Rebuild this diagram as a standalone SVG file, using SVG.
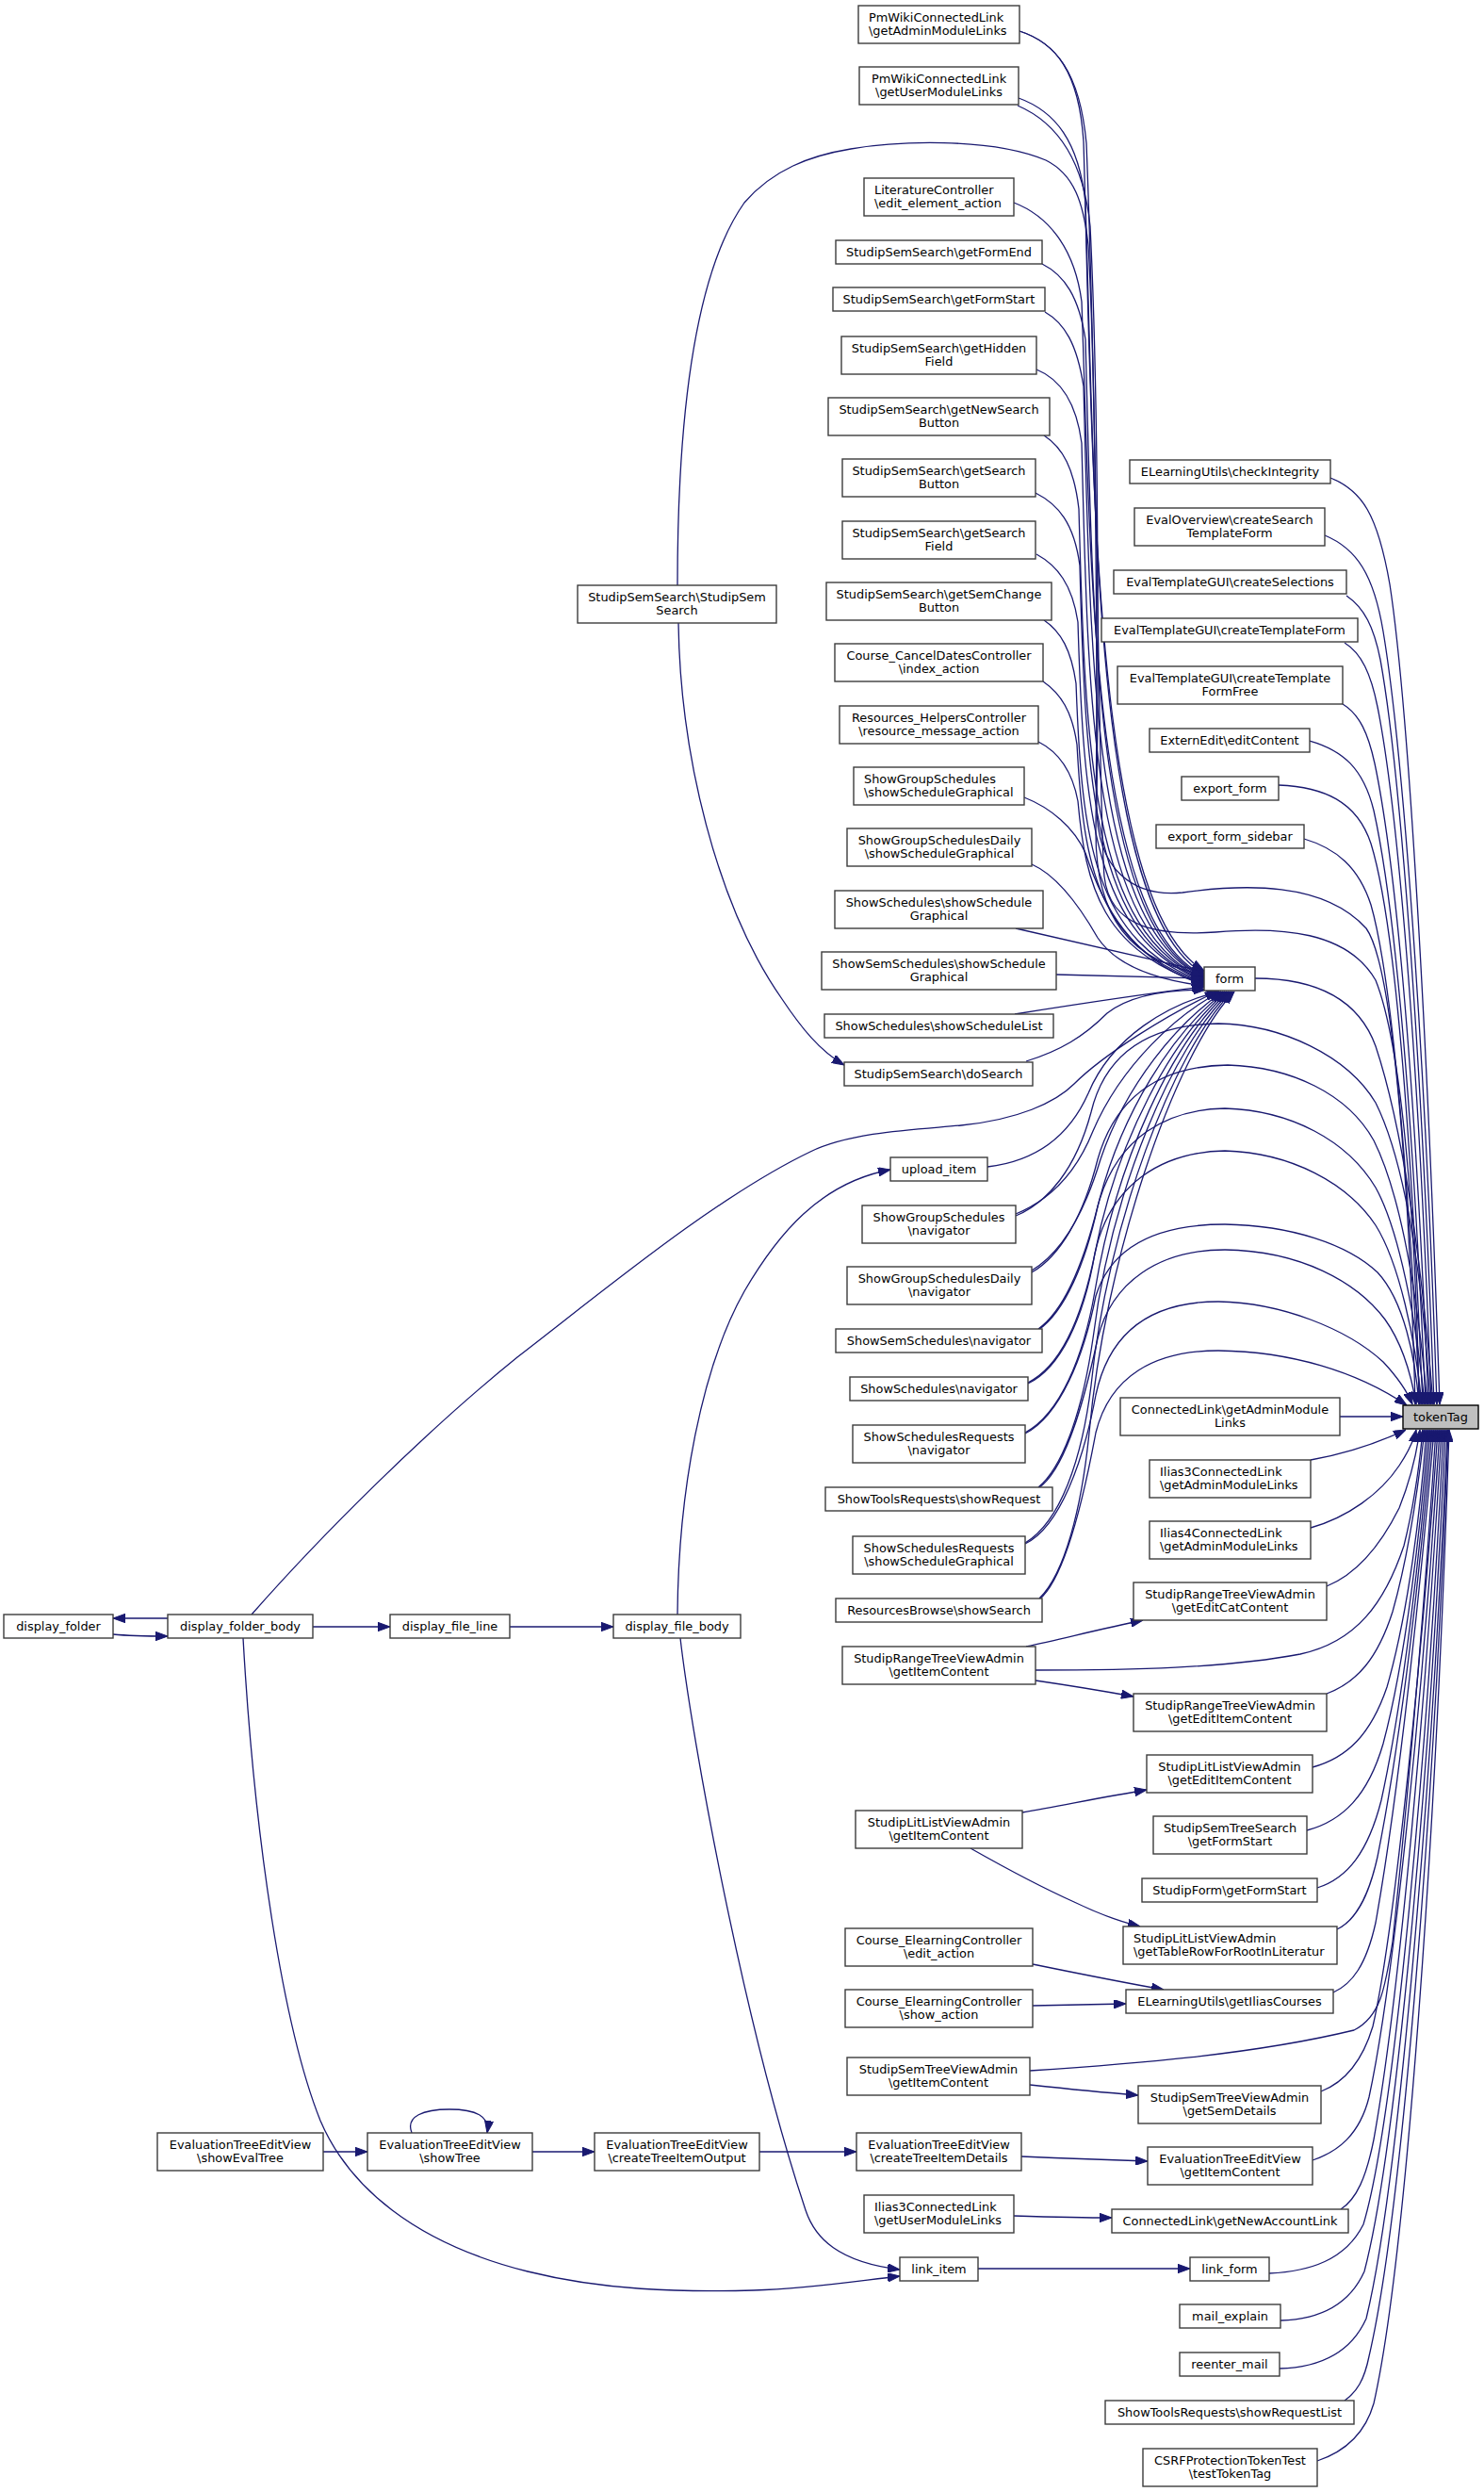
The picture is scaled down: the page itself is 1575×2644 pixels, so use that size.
<svg xmlns="http://www.w3.org/2000/svg" width="1575" height="2644" viewBox="0 0 1575 2644">
<style>
.node rect{fill:#ffffff;stroke:#3c3c3c;stroke-width:1.4}
.root rect{fill:#bfbfbf;stroke:#000000;stroke-width:1.4}
text{font-family:"DejaVu Sans","Liberation Sans",sans-serif;font-size:12.9px;fill:#000000}
.c{text-anchor:middle}
.l{text-anchor:start}
.e{fill:none;stroke:#191970;stroke-width:1.3;marker-end:url(#ah)}
</style>
<defs>
<marker id="ah" viewBox="0 0 13 9.4" refX="13" refY="4.7" markerWidth="13" markerHeight="9.4" markerUnits="userSpaceOnUse" orient="auto"><path d="M0,0 L13,4.7 L0,9.4 Z" fill="#191970" stroke="#191970" stroke-width="1"/></marker>
</defs>
<rect x="0" y="0" width="1575" height="2644" fill="#ffffff"/>
<g id="edges">
<path class="e" d="M1082,33 C1120,45 1145,75 1150,150 C1160,500 1160,960 1278,1030"/>
<path class="e" d="M1082,33 C1120,45 1146,76 1153,152 C1165,450 1166,860 1172,930 C1178,985 1230,993 1290,989 C1360,983 1430,988 1460,1040 C1488,1110 1503,1300 1506,1490"/>
<path class="e" d="M1081,104 C1120,118 1145,150 1152,215 C1162,520 1160,970 1278,1033"/>
<path class="e" d="M1080,112 C1122,130 1150,170 1157,240 C1166,420 1166,700 1164,850 C1162,925 1205,952 1255,947 C1320,938 1405,935 1450,985 C1482,1030 1497,1300 1502,1490"/>
<path class="e" d="M1076,215 C1110,228 1140,260 1148,320 C1158,600 1158,980 1278,1035"/>
<path class="e" d="M1106,280 C1130,292 1145,315 1152,360 C1160,650 1160,985 1278,1036"/>
<path class="e" d="M1109,331 C1130,343 1143,365 1150,410 C1158,700 1158,985 1278,1037"/>
<path class="e" d="M1100,392 C1125,402 1142,425 1148,470 C1155,750 1158,990 1278,1038"/>
<path class="e" d="M1108,462 C1128,475 1140,497 1145,540 C1152,800 1158,990 1278,1039"/>
<path class="e" d="M1099,523 C1123,535 1140,555 1146,600 C1152,830 1160,995 1278,1040"/>
<path class="e" d="M1100,588 C1122,600 1138,620 1144,660 C1150,860 1160,995 1278,1041"/>
<path class="e" d="M1108,658 C1126,670 1137,690 1142,725 C1148,890 1160,1000 1278,1042"/>
<path class="e" d="M1107,723 C1126,736 1138,755 1143,790 C1150,920 1165,1005 1278,1043"/>
<path class="e" d="M1102,787 C1124,798 1138,818 1144,850 C1152,940 1170,1010 1278,1044"/>
<path class="e" d="M1087,846 C1115,857 1140,878 1152,905 C1170,960 1200,1020 1278,1045"/>
<path class="e" d="M1095,917 C1120,928 1145,960 1165,995 C1185,1025 1230,1040 1278,1046"/>
<path class="e" d="M1078,985 C1140,999 1210,1015 1278,1031"/>
<path class="e" d="M1121,1034 L1278,1038"/>
<path class="e" d="M1077,1076 C1140,1066 1210,1055 1278,1047"/>
<path class="e" d="M1089,1126 C1125,1115 1150,1100 1175,1075 C1200,1055 1240,1050 1280,1050"/>
<path class="e" d="M719,621 C719,480 730,300 790,215 C820,180 860,165 903,158 C950,150 1050,145 1110,170 C1140,185 1150,215 1155,260 C1163,400 1165,700 1163,880 C1162,975 1200,1020 1278,1034"/>
<path class="e" d="M720,661 C722,800 760,960 830,1060 C850,1090 870,1115 896,1130"/>
<path class="e" d="M267,1713 C340,1630 450,1520 549,1440 C640,1370 760,1270 860,1222 C905,1200 980,1198 1020,1194 C1080,1188 1120,1170 1140,1150 C1170,1120 1240,1075 1292,1052"/>
<path class="e" d="M1048,1238 C1100,1232 1135,1205 1155,1160 C1180,1100 1240,1065 1294,1052"/>
<path class="e" d="M1078,1288 C1110,1275 1140,1250 1160,1200 C1190,1130 1250,1075 1296,1052"/>
<path class="e" d="M1078,1290 C1112,1276 1142,1240 1158,1180 C1175,1110 1230,1087 1293,1086 C1360,1087 1430,1120 1460,1170 C1490,1230 1510,1350 1518,1490"/>
<path class="e" d="M1095,1348 C1125,1330 1150,1290 1168,1230 C1195,1150 1250,1085 1298,1052"/>
<path class="e" d="M1095,1350 C1125,1333 1150,1290 1165,1230 C1185,1160 1235,1131 1303,1130 C1370,1132 1430,1160 1458,1210 C1488,1270 1505,1380 1515,1490"/>
<path class="e" d="M1102,1410 C1130,1390 1150,1340 1165,1280 C1190,1180 1245,1095 1300,1052"/>
<path class="e" d="M1102,1411 C1130,1392 1152,1340 1165,1280 C1185,1205 1240,1177 1300,1176 C1370,1178 1430,1210 1460,1260 C1485,1305 1503,1400 1512,1490"/>
<path class="e" d="M1091,1467 C1125,1450 1148,1400 1162,1330 C1185,1210 1245,1100 1302,1052"/>
<path class="e" d="M1091,1468 C1125,1452 1150,1400 1162,1330 C1178,1255 1235,1222 1300,1221 C1370,1223 1430,1255 1460,1300 C1485,1340 1502,1420 1509,1490"/>
<path class="e" d="M1088,1520 C1125,1500 1150,1440 1162,1370 C1185,1230 1245,1105 1304,1052"/>
<path class="e" d="M1088,1521 C1125,1502 1150,1440 1163,1375 C1180,1320 1230,1299 1300,1299 C1370,1300 1430,1320 1462,1350 C1490,1380 1502,1440 1506,1490"/>
<path class="e" d="M1102,1578 C1130,1555 1150,1490 1160,1420 C1180,1260 1245,1110 1306,1052"/>
<path class="e" d="M1102,1579 C1130,1560 1150,1490 1165,1420 C1180,1360 1230,1326 1300,1326 C1380,1327 1440,1360 1470,1400 C1488,1425 1498,1460 1503,1490"/>
<path class="e" d="M1088,1637 C1125,1615 1148,1550 1158,1470 C1175,1300 1245,1115 1308,1052"/>
<path class="e" d="M1088,1638 C1125,1620 1150,1550 1163,1480 C1178,1410 1225,1381 1293,1381 C1360,1382 1430,1410 1468,1445 C1482,1460 1493,1475 1499,1490"/>
<path class="e" d="M1103,1696 C1130,1670 1148,1600 1156,1520 C1172,1340 1245,1120 1310,1052"/>
<path class="e" d="M1103,1697 C1130,1675 1150,1590 1163,1520 C1178,1460 1225,1433 1293,1433 C1370,1434 1440,1455 1493,1491"/>
<path class="e" d="M1332,1038 C1390,1038 1440,1055 1460,1110 C1490,1200 1510,1350 1521,1490"/>
<path class="e" d="M1412,507 C1445,520 1462,545 1475,620 C1495,750 1515,1100 1528,1490"/>
<path class="e" d="M1406,568 C1440,582 1458,610 1468,670 C1488,790 1512,1100 1525,1490"/>
<path class="e" d="M1429,632 C1448,645 1458,665 1465,700 C1485,810 1508,1100 1522,1490"/>
<path class="e" d="M1427,682 C1445,693 1455,715 1462,750 C1482,850 1505,1100 1519,1490"/>
<path class="e" d="M1425,747 C1443,758 1452,778 1459,810 C1478,900 1500,1100 1516,1490"/>
<path class="e" d="M1390,786 C1425,796 1447,815 1458,860 C1478,950 1498,1150 1513,1490"/>
<path class="e" d="M1357,833 C1405,835 1440,850 1455,895 C1478,970 1495,1150 1510,1490"/>
<path class="e" d="M1384,890 C1418,900 1442,920 1455,960 C1475,1030 1492,1200 1507,1490"/>
<path class="e" d="M1422,1503 L1489,1503"/>
<path class="e" d="M1391,1549 C1425,1543 1460,1532 1492,1517"/>
<path class="e" d="M1391,1621 C1430,1610 1465,1585 1485,1555 C1495,1540 1500,1530 1503,1517"/>
<path class="e" d="M1408,1683 C1440,1670 1465,1640 1485,1600 C1497,1570 1503,1545 1507,1517"/>
<path class="e" d="M1099,1772 C1200,1772 1300,1770 1380,1755 C1440,1742 1470,1700 1490,1640 C1500,1600 1506,1560 1510,1517"/>
<path class="e" d="M1408,1797 C1440,1785 1462,1760 1478,1710 C1495,1650 1505,1580 1512,1517"/>
<path class="e" d="M1393,1875 C1430,1865 1455,1840 1472,1790 C1495,1710 1508,1600 1514,1517"/>
<path class="e" d="M1387,1942 C1425,1932 1452,1905 1468,1850 C1492,1760 1508,1620 1516,1517"/>
<path class="e" d="M1398,2003 C1430,1993 1452,1965 1466,1910 C1490,1800 1508,1640 1518,1517"/>
<path class="e" d="M1419,2047 C1438,2038 1452,2015 1462,1970 C1488,1840 1508,1660 1520,1517"/>
<path class="e" d="M1415,2114 C1435,2105 1450,2085 1460,2040 C1485,1900 1508,1680 1522,1517"/>
<path class="e" d="M1093,2197 C1200,2190 1330,2180 1437,2154 C1465,2140 1470,2110 1478,2060 C1495,1900 1512,1700 1524,1517"/>
<path class="e" d="M1402,2219 C1425,2210 1445,2190 1457,2150 C1480,2050 1510,1750 1526,1517"/>
<path class="e" d="M1393,2292 C1420,2283 1443,2265 1453,2225 C1480,2100 1512,1780 1528,1517"/>
<path class="e" d="M1423,2344 C1440,2333 1450,2310 1458,2270 C1485,2120 1514,1800 1530,1517"/>
<path class="e" d="M1347,2412 C1390,2410 1428,2398 1447,2360 C1480,2250 1516,1850 1532,1517"/>
<path class="e" d="M1359,2462 C1395,2461 1430,2450 1448,2410 C1482,2280 1518,1880 1534,1517"/>
<path class="e" d="M1358,2513 C1395,2512 1432,2500 1450,2460 C1484,2320 1520,1900 1536,1517"/>
<path class="e" d="M1427,2547 C1440,2538 1448,2525 1453,2500 C1488,2350 1522,1920 1537,1517"/>
<path class="e" d="M1398,2611 C1425,2602 1448,2585 1458,2550 C1492,2400 1524,1950 1538,1517"/>
<path class="e" d="M1089,1747 C1130,1738 1170,1728 1213,1719"/>
<path class="e" d="M1099,1783 C1140,1789 1170,1794 1203,1800"/>
<path class="e" d="M1085,1923 C1130,1915 1175,1906 1217,1899"/>
<path class="e" d="M1030,1961 C1060,1978 1100,2000 1140,2018 C1165,2030 1185,2038 1210,2044"/>
<path class="e" d="M1096,2084 C1145,2094 1190,2103 1235,2111"/>
<path class="e" d="M1096,2128 L1195,2126"/>
<path class="e" d="M1093,2212 C1130,2216 1170,2220 1208,2223"/>
<path class="e" d="M1084,2288 C1130,2290 1180,2292 1218,2293"/>
<path class="e" d="M1076,2351 C1110,2352 1150,2353 1180,2353"/>
<path class="e" d="M1038,2407 L1263,2407"/>
<path class="e" d="M178,1717 L120,1717"/>
<path class="e" d="M120,1734 C140,1736 160,1736 178,1736"/>
<path class="e" d="M332,1726 L414,1726"/>
<path class="e" d="M541,1726 L651,1726"/>
<path class="e" d="M719,1713 C720,1580 745,1450 790,1370 C825,1310 870,1255 945,1241"/>
<path class="e" d="M722,1738 C735,1850 790,2150 855,2345 C865,2375 890,2400 955,2408"/>
<path class="e" d="M258,1738 C270,1950 300,2150 340,2250 C370,2320 440,2380 560,2410 C640,2430 720,2432 800,2430 C860,2428 910,2420 955,2415"/>
<path class="e" d="M343,2283 L390,2283"/>
<path class="e" d="M437,2263 C430,2245 450,2238 477,2238 C505,2238 520,2245 517,2263"/>
<path class="e" d="M565,2283 L631,2283"/>
<path class="e" d="M806,2283 L909,2283"/>
</g>
<g id="n_pmw_admin" class="node"><rect x="911" y="6" width="171" height="40"/><text class="l" x="922" y="22.5">PmWikiConnectedLink</text><text class="l" x="922" y="37">\getAdminModuleLinks</text></g>
<g id="n_pmw_user" class="node"><rect x="912" y="71" width="169" height="40"/><text class="c" x="996.5" y="87.5">PmWikiConnectedLink</text><text class="c" x="996.5" y="102">\getUserModuleLinks</text></g>
<g id="n_lit" class="node"><rect x="917" y="189" width="159" height="40"/><text class="l" x="928" y="205.5">LiteratureController</text><text class="l" x="928" y="220">\edit_element_action</text></g>
<g id="n_formend" class="node"><rect x="887" y="255" width="219" height="25"/><text class="c" x="996.5" y="272">StudipSemSearch\getFormEnd</text></g>
<g id="n_formstart" class="node"><rect x="884" y="305" width="225" height="25"/><text class="c" x="996.5" y="322">StudipSemSearch\getFormStart</text></g>
<g id="n_hidden" class="node"><rect x="893" y="357" width="207" height="40"/><text class="c" x="996.5" y="373.5">StudipSemSearch\getHidden</text><text class="c" x="996.5" y="388">Field</text></g>
<g id="n_newsearch" class="node"><rect x="879" y="422" width="235" height="40"/><text class="c" x="996.5" y="438.5">StudipSemSearch\getNewSearch</text><text class="c" x="996.5" y="453">Button</text></g>
<g id="n_searchbtn" class="node"><rect x="894" y="487" width="205" height="40"/><text class="c" x="996.5" y="503.5">StudipSemSearch\getSearch</text><text class="c" x="996.5" y="518">Button</text></g>
<g id="n_searchfield" class="node"><rect x="894" y="553" width="205" height="40"/><text class="c" x="996.5" y="569.5">StudipSemSearch\getSearch</text><text class="c" x="996.5" y="584">Field</text></g>
<g id="n_semchange" class="node"><rect x="877" y="618" width="239" height="40"/><text class="c" x="996.5" y="634.5">StudipSemSearch\getSemChange</text><text class="c" x="996.5" y="649">Button</text></g>
<g id="n_canceldates" class="node"><rect x="886" y="683" width="221" height="40"/><text class="c" x="996.5" y="699.5">Course_CancelDatesController</text><text class="c" x="996.5" y="714">\index_action</text></g>
<g id="n_reshelpers" class="node"><rect x="891" y="749" width="211" height="40"/><text class="c" x="996.5" y="765.5">Resources_HelpersController</text><text class="c" x="996.5" y="780">\resource_message_action</text></g>
<g id="n_gs_graph" class="node"><rect x="906" y="814" width="181" height="40"/><text class="l" x="917" y="830.5">ShowGroupSchedules</text><text class="l" x="917" y="845">\showScheduleGraphical</text></g>
<g id="n_gsd_graph" class="node"><rect x="899" y="879" width="196" height="40"/><text class="c" x="997" y="895.5">ShowGroupSchedulesDaily</text><text class="c" x="997" y="910">\showScheduleGraphical</text></g>
<g id="n_ss_graph" class="node"><rect x="886" y="945" width="221" height="40"/><text class="c" x="996.5" y="961.5">ShowSchedules\showSchedule</text><text class="c" x="996.5" y="976">Graphical</text></g>
<g id="n_sem_graph" class="node"><rect x="872" y="1010" width="249" height="40"/><text class="c" x="996.5" y="1026.5">ShowSemSchedules\showSchedule</text><text class="c" x="996.5" y="1041">Graphical</text></g>
<g id="n_ss_list" class="node"><rect x="875" y="1076" width="243" height="25"/><text class="c" x="996.5" y="1093">ShowSchedules\showScheduleList</text></g>
<g id="n_dosearch" class="node"><rect x="896" y="1127" width="200" height="25"/><text class="c" x="996" y="1144">StudipSemSearch\doSearch</text></g>
<g id="n_upload" class="node"><rect x="945" y="1228" width="103" height="25"/><text class="c" x="996.5" y="1245">upload_item</text></g>
<g id="n_gs_nav" class="node"><rect x="915" y="1279" width="163" height="40"/><text class="c" x="996.5" y="1295.5">ShowGroupSchedules</text><text class="c" x="996.5" y="1310">\navigator</text></g>
<g id="n_gsd_nav" class="node"><rect x="899" y="1344" width="196" height="40"/><text class="c" x="997" y="1360.5">ShowGroupSchedulesDaily</text><text class="c" x="997" y="1375">\navigator</text></g>
<g id="n_sem_nav" class="node"><rect x="887" y="1410" width="219" height="25"/><text class="c" x="996.5" y="1427">ShowSemSchedules\navigator</text></g>
<g id="n_ss_nav" class="node"><rect x="902" y="1461" width="189" height="25"/><text class="c" x="996.5" y="1478">ShowSchedules\navigator</text></g>
<g id="n_ssr_nav" class="node"><rect x="905" y="1512" width="183" height="40"/><text class="c" x="996.5" y="1528.5">ShowSchedulesRequests</text><text class="c" x="996.5" y="1543">\navigator</text></g>
<g id="n_str_req" class="node"><rect x="876" y="1578" width="241" height="25"/><text class="c" x="996.5" y="1595">ShowToolsRequests\showRequest</text></g>
<g id="n_ssr_graph" class="node"><rect x="905" y="1630" width="183" height="40"/><text class="c" x="996.5" y="1646.5">ShowSchedulesRequests</text><text class="c" x="996.5" y="1661">\showScheduleGraphical</text></g>
<g id="n_rb_search" class="node"><rect x="887" y="1696" width="219" height="25"/><text class="c" x="996.5" y="1713">ResourcesBrowse\showSearch</text></g>
<g id="n_srt_item" class="node"><rect x="894" y="1747" width="205" height="40"/><text class="c" x="996.5" y="1763.5">StudipRangeTreeViewAdmin</text><text class="c" x="996.5" y="1778">\getItemContent</text></g>
<g id="n_sll_item" class="node"><rect x="908" y="1921" width="177" height="40"/><text class="c" x="996.5" y="1937.5">StudipLitListViewAdmin</text><text class="c" x="996.5" y="1952">\getItemContent</text></g>
<g id="n_ce_edit" class="node"><rect x="897" y="2046" width="199" height="40"/><text class="c" x="996.5" y="2062.5">Course_ElearningController</text><text class="c" x="996.5" y="2077">\edit_action</text></g>
<g id="n_ce_show" class="node"><rect x="897" y="2111" width="199" height="40"/><text class="c" x="996.5" y="2127.5">Course_ElearningController</text><text class="c" x="996.5" y="2142">\show_action</text></g>
<g id="n_stv_item" class="node"><rect x="899" y="2183" width="194" height="40"/><text class="c" x="996" y="2199.5">StudipSemTreeViewAdmin</text><text class="c" x="996" y="2214">\getItemContent</text></g>
<g id="n_et_details" class="node"><rect x="909" y="2263" width="175" height="40"/><text class="c" x="996.5" y="2279.5">EvaluationTreeEditView</text><text class="c" x="996.5" y="2294">\createTreeItemDetails</text></g>
<g id="n_i3_user" class="node"><rect x="917" y="2329" width="159" height="40"/><text class="l" x="928" y="2345.5">Ilias3ConnectedLink</text><text class="l" x="928" y="2360">\getUserModuleLinks</text></g>
<g id="n_link_item" class="node"><rect x="955" y="2395" width="83" height="25"/><text class="c" x="996.5" y="2412">link_item</text></g>
<g id="n_sss" class="node"><rect x="613" y="621" width="211" height="40"/><text class="c" x="718.5" y="637.5">StudipSemSearch\StudipSem</text><text class="c" x="718.5" y="652">Search</text></g>
<g id="n_dfolder" class="node"><rect x="4" y="1713" width="116" height="25"/><text class="c" x="62" y="1730">display_folder</text></g>
<g id="n_dfbody" class="node"><rect x="178" y="1713" width="154" height="25"/><text class="c" x="255" y="1730">display_folder_body</text></g>
<g id="n_dfline" class="node"><rect x="414" y="1713" width="127" height="25"/><text class="c" x="477.5" y="1730">display_file_line</text></g>
<g id="n_dfilebody" class="node"><rect x="651" y="1713" width="135" height="25"/><text class="c" x="718.5" y="1730">display_file_body</text></g>
<g id="n_et_evaltree" class="node"><rect x="167" y="2263" width="176" height="40"/><text class="c" x="255" y="2279.5">EvaluationTreeEditView</text><text class="c" x="255" y="2294">\showEvalTree</text></g>
<g id="n_et_tree" class="node"><rect x="390" y="2263" width="175" height="40"/><text class="c" x="477.5" y="2279.5">EvaluationTreeEditView</text><text class="c" x="477.5" y="2294">\showTree</text></g>
<g id="n_et_output" class="node"><rect x="631" y="2263" width="175" height="40"/><text class="c" x="718.5" y="2279.5">EvaluationTreeEditView</text><text class="c" x="718.5" y="2294">\createTreeItemOutput</text></g>
<g id="n_checkint" class="node"><rect x="1199" y="488" width="213" height="25"/><text class="c" x="1305.5" y="505">ELearningUtils\checkIntegrity</text></g>
<g id="n_evalov" class="node"><rect x="1204" y="539" width="202" height="40"/><text class="c" x="1305" y="555.5">EvalOverview\createSearch</text><text class="c" x="1305" y="570">TemplateForm</text></g>
<g id="n_selections" class="node"><rect x="1182" y="605" width="247" height="25"/><text class="c" x="1305.5" y="622">EvalTemplateGUI\createSelections</text></g>
<g id="n_tplform" class="node"><rect x="1169" y="656" width="272" height="25"/><text class="c" x="1305" y="673">EvalTemplateGUI\createTemplateForm</text></g>
<g id="n_tplfree" class="node"><rect x="1186" y="707" width="239" height="40"/><text class="c" x="1305.5" y="723.5">EvalTemplateGUI\createTemplate</text><text class="c" x="1305.5" y="738">FormFree</text></g>
<g id="n_extern" class="node"><rect x="1220" y="773" width="170" height="25"/><text class="c" x="1305" y="790">ExternEdit\editContent</text></g>
<g id="n_export" class="node"><rect x="1254" y="824" width="103" height="25"/><text class="c" x="1305.5" y="841">export_form</text></g>
<g id="n_exportsb" class="node"><rect x="1227" y="875" width="157" height="25"/><text class="c" x="1305.5" y="892">export_form_sidebar</text></g>
<g id="n_form" class="node"><rect x="1278" y="1026" width="54" height="25"/><text class="c" x="1305" y="1043">form</text></g>
<g id="n_cl_admin" class="node"><rect x="1189" y="1483" width="233" height="40"/><text class="c" x="1305.5" y="1499.5">ConnectedLink\getAdminModule</text><text class="c" x="1305.5" y="1514">Links</text></g>
<g id="n_tokentag" class="node root"><rect x="1489" y="1491" width="80" height="25"/><text class="c" x="1529" y="1508">tokenTag</text></g>
<g id="n_i3_admin" class="node"><rect x="1220" y="1549" width="171" height="40"/><text class="l" x="1231" y="1565.5">Ilias3ConnectedLink</text><text class="l" x="1231" y="1580">\getAdminModuleLinks</text></g>
<g id="n_i4_admin" class="node"><rect x="1220" y="1614" width="171" height="40"/><text class="l" x="1231" y="1630.5">Ilias4ConnectedLink</text><text class="l" x="1231" y="1645">\getAdminModuleLinks</text></g>
<g id="n_srt_cat" class="node"><rect x="1203" y="1679" width="205" height="40"/><text class="c" x="1305.5" y="1695.5">StudipRangeTreeViewAdmin</text><text class="c" x="1305.5" y="1710">\getEditCatContent</text></g>
<g id="n_srt_edit" class="node"><rect x="1203" y="1797" width="205" height="40"/><text class="c" x="1305.5" y="1813.5">StudipRangeTreeViewAdmin</text><text class="c" x="1305.5" y="1828">\getEditItemContent</text></g>
<g id="n_sll_edit" class="node"><rect x="1217" y="1862" width="176" height="40"/><text class="c" x="1305" y="1878.5">StudipLitListViewAdmin</text><text class="c" x="1305" y="1893">\getEditItemContent</text></g>
<g id="n_sts_form" class="node"><rect x="1224" y="1927" width="163" height="40"/><text class="c" x="1305.5" y="1943.5">StudipSemTreeSearch</text><text class="c" x="1305.5" y="1958">\getFormStart</text></g>
<g id="n_sf_form" class="node"><rect x="1212" y="1993" width="186" height="25"/><text class="c" x="1305" y="2010">StudipForm\getFormStart</text></g>
<g id="n_sll_row" class="node"><rect x="1192" y="2044" width="227" height="40"/><text class="l" x="1203" y="2060.5">StudipLitListViewAdmin</text><text class="l" x="1203" y="2075">\getTableRowForRootInLiteratur</text></g>
<g id="n_elu_ilias" class="node"><rect x="1195" y="2111" width="220" height="25"/><text class="c" x="1305" y="2128">ELearningUtils\getIliasCourses</text></g>
<g id="n_stv_details" class="node"><rect x="1208" y="2213" width="194" height="40"/><text class="c" x="1305" y="2229.5">StudipSemTreeViewAdmin</text><text class="c" x="1305" y="2244">\getSemDetails</text></g>
<g id="n_et_item" class="node"><rect x="1218" y="2278" width="175" height="40"/><text class="c" x="1305.5" y="2294.5">EvaluationTreeEditView</text><text class="c" x="1305.5" y="2309">\getItemContent</text></g>
<g id="n_cl_newacc" class="node"><rect x="1180" y="2344" width="251" height="25"/><text class="c" x="1305.5" y="2361">ConnectedLink\getNewAccountLink</text></g>
<g id="n_link_form" class="node"><rect x="1263" y="2395" width="84" height="25"/><text class="c" x="1305" y="2412">link_form</text></g>
<g id="n_mail_explain" class="node"><rect x="1252" y="2445" width="107" height="25"/><text class="c" x="1305.5" y="2462">mail_explain</text></g>
<g id="n_reenter" class="node"><rect x="1252" y="2496" width="106" height="25"/><text class="c" x="1305" y="2513">reenter_mail</text></g>
<g id="n_str_list" class="node"><rect x="1173" y="2547" width="264" height="25"/><text class="c" x="1305" y="2564">ShowToolsRequests\showRequestList</text></g>
<g id="n_csrf" class="node"><rect x="1213" y="2598" width="185" height="40"/><text class="c" x="1305.5" y="2614.5">CSRFProtectionTokenTest</text><text class="c" x="1305.5" y="2629">\testTokenTag</text></g>
</svg>
